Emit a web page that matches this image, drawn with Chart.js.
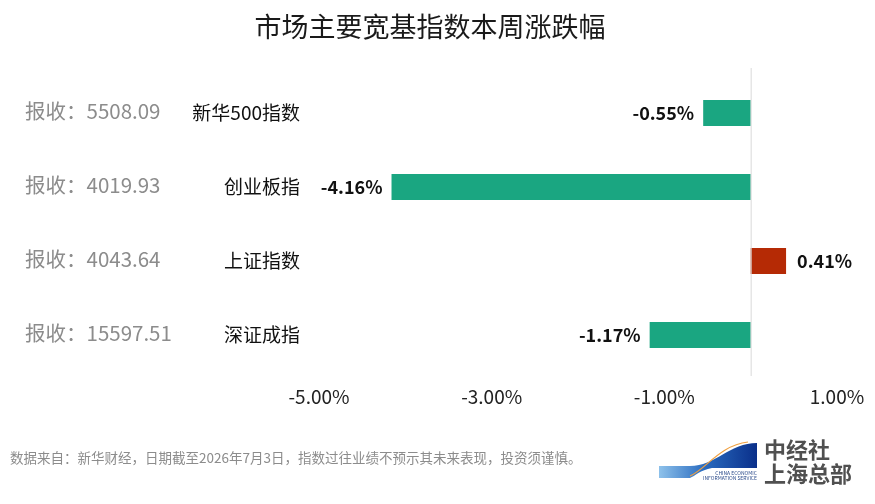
<!DOCTYPE html>
<html>
<head>
<meta charset="utf-8">
<script src="https://cdn.jsdelivr.net/npm/chart.js@4"></script>
<style>
  html, body { margin: 0; padding: 0; background: #fff; }
  canvas { display: block; }
</style>
</head>
<body>
<canvas id="chart" width="875" height="504"></canvas>
<script>
// 数据
const categories = ['新华500指数', '创业板指', '上证指数', '深证成指'];
const changes = [-0.55, -4.16, 0.41, -1.17];
const closes = ['5508.09', '4019.93', '4043.64', '15597.51'];
const xTicks = [-5, -3, -1, 1];

const titleText = '市场主要宽基指数本周涨跌幅';
const footText = '数据来自：新华财经，日期截至2026年7月3日，指数过往业绩不预示其未来表现，投资须谨慎。';
const FONT = '"Noto Sans CJK SC", "Noto Sans", sans-serif';

// 标题、报收、数值标签和底部文字
const extras = {
    id: 'extras',
    afterDraw(chart) {
        const ctx = chart.ctx;
        const y = chart.scales.y;
        const x = chart.scales.x;
        ctx.save();

        // 标题
        ctx.fillStyle = '#1a1a1a';
        ctx.font = '27px ' + FONT;
        ctx.textAlign = 'center';
        ctx.textBaseline = 'middle';
        ctx.fillText(titleText, 430, 27);

        // 报收
        ctx.fillStyle = '#8c8c8c';
        ctx.font = '20.5px ' + FONT;
        ctx.textAlign = 'left';
        closes.forEach((c, i) => {
            ctx.fillText('报收：' + c, 25, y.getPixelForValue(i) - 2);
        });

        // 数值标签
        ctx.fillStyle = '#111';
        ctx.font = 'bold 18px ' + FONT;
        changes.forEach((v, i) => {
            const px = x.getPixelForValue(v);
            const py = y.getPixelForValue(i);
            if (v < 0) {
                ctx.textAlign = 'right';
                ctx.fillText(v.toFixed(2) + '%', px - 9, py);
            } else {
                ctx.textAlign = 'left';
                ctx.fillText(v.toFixed(2) + '%', px + 11, py);
            }
        });

        // 零线延伸
        const zx = x.getPixelForValue(0);
        ctx.strokeStyle = '#d9d9d9';
        ctx.lineWidth = 1;
        ctx.beginPath();
        ctx.moveTo(zx + 0.5, 68);
        ctx.lineTo(zx + 0.5, 376);
        ctx.stroke();

        // 底部说明
        ctx.fillStyle = '#8c8c8c';
        ctx.font = '13.5px ' + FONT;
        ctx.textAlign = 'left';
        ctx.fillText(footText, 10, 458);

        // 标志
        const g = ctx.createLinearGradient(660, 0, 757, 0);
        g.addColorStop(0, '#8cc0ea');
        g.addColorStop(0.45, '#2a6cc0');
        g.addColorStop(1, '#0a2f8a');
        ctx.fillStyle = g;
        ctx.beginPath();
        ctx.moveTo(659, 466);
        ctx.lineTo(690, 466);
        ctx.bezierCurveTo(715, 466, 730, 443, 757, 443);
        ctx.lineTo(757, 468);
        ctx.lineTo(712, 468);
        ctx.bezierCurveTo(700, 470, 695, 476, 690, 478);
        ctx.lineTo(659, 478);
        ctx.closePath();
        ctx.fill();
        ctx.strokeStyle = '#f0a040';
        ctx.lineWidth = 1.2;
        ctx.beginPath();
        ctx.moveTo(690, 476);
        ctx.bezierCurveTo(705, 470, 720, 445, 748, 442);
        ctx.stroke();
        ctx.fillStyle = '#2a4a8a';
        ctx.font = '5px ' + FONT;
        ctx.textAlign = 'right';
        ctx.fillText('CHINA ECONOMIC', 757, 473);
        ctx.fillText('INFORMATION SERVICE', 757, 478);

        ctx.fillStyle = '#505050';
        ctx.font = 'bold 22px ' + FONT;
        ctx.textAlign = 'left';
        ctx.fillText('中经社', 764, 450);
        ctx.fillText('上海总部', 764, 474);

        ctx.restore();
    }
};

const ctx = document.getElementById('chart').getContext('2d');
new Chart(ctx, {
    type: 'bar',
    data: {
        labels: categories,
        datasets: [{
            data: changes,
            backgroundColor: changes.map(v => v < 0 ? '#1aa681' : '#b52a05'),
            categoryPercentage: 1,
            barPercentage: 0.35
        }]
    },
    options: {
        indexAxis: 'y',
        responsive: false,
        animation: false,
        layout: { padding: { top: 76, right: 38, bottom: 92, left: 0 } },
        plugins: {
            legend: { display: false },
            title: { display: false },
            tooltip: { enabled: false }
        },
        scales: {
            x: {
                min: -5,
                max: 1,
                afterBuildTicks(scale) {
                    scale.ticks = xTicks.map(v => ({ value: v }));
                },
                afterFit(scale) { scale.height = 40; },
                grid: { display: false },
                border: { display: false },
                ticks: {
                    padding: 5,
                    color: '#222',
                    font: { family: FONT, size: 19 },
                    callback: v => Number(v).toFixed(2) + '%'
                }
            },
            y: {
                afterFit(scale) { scale.width = 319; },
                grid: { display: false },
                border: { display: false },
                ticks: {
                    padding: 11,
                    color: '#111',
                    font: { family: FONT, size: 19 }
                }
            }
        }
    },
    plugins: [extras]
});
</script>
</body>
</html>
